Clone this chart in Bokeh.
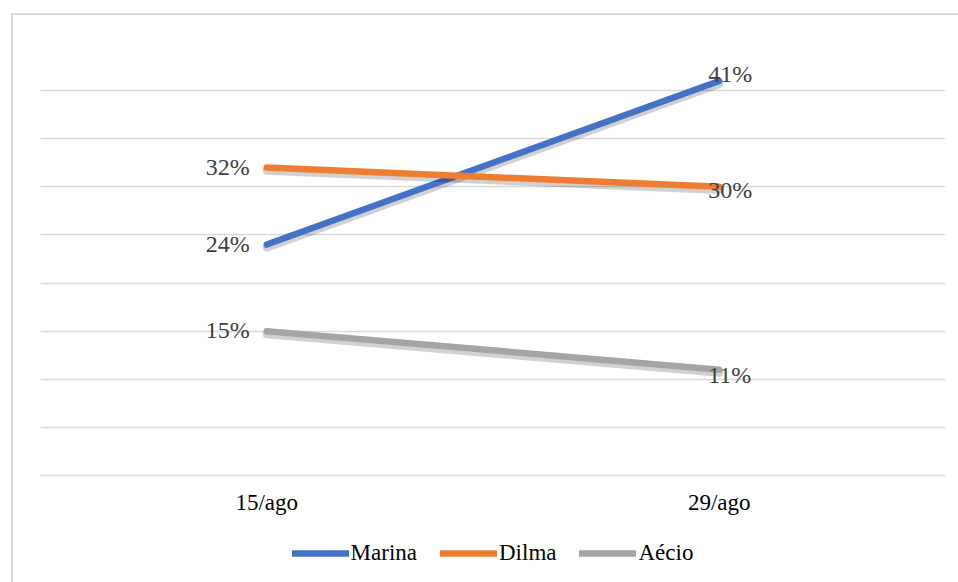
from bokeh.plotting import figure
from bokeh.models import FactorRange, Range1d, FixedTicker, Legend, LegendItem
from bokeh.layouts import column
from bokeh.core.properties import value
from bokeh.embed import file_html
from bokeh.resources import INLINE

dates = ["15/ago", "29/ago"]
marina = [24, 41]
dilma = [32, 30]
aecio = [15, 11]
series_names = ["Marina", "Dilma", "Aécio"]
y_ticks = [0, 5, 10, 15, 20, 25, 30, 35, 40, 45]

series = [marina, dilma, aecio]
colors = ["#4472C4", "#ED7D31", "#A5A5A5"]
# vertical nudges (px) for the labels at the last point
end_nudge = [-7, 3, 5]

FONT = "Liberation Serif"

p = figure(x_range=FactorRange(*dates), y_range=Range1d(0, 45),
           width=945, height=505, output_backend="svg", toolbar_location=None,
           min_border_left=27, min_border_right=13, min_border_top=27, min_border_bottom=45)
p.outline_line_color = None
p.background_fill_color = "white"
p.border_fill_color = "white"

p.extra_y_ranges = {"shadow": Range1d(0.32, 45.32)}

p.yaxis.visible = False
p.yaxis.ticker = FixedTicker(ticks=y_ticks)
p.ygrid.ticker = FixedTicker(ticks=y_ticks)
p.ygrid.grid_line_color = "#d9d9d9"
p.ygrid.grid_line_width = 1.5
p.xgrid.visible = False

p.xaxis.axis_line_color = "#d9d9d9"
p.xaxis.axis_line_width = 1.5
p.xaxis.major_tick_line_color = None
p.xaxis.minor_tick_line_color = None
p.xaxis.major_label_text_font = FONT
p.xaxis.major_label_text_font_size = "23px"
p.xaxis.major_label_text_color = "#000000"
p.xaxis.major_label_standoff = 8

# legend panel (separate strip below the chart)
pleg = figure(x_range=FactorRange(*dates), y_range=Range1d(100, 101),
              width=945, height=62, output_backend="svg", toolbar_location=None,
              min_border_left=27, min_border_right=9, min_border_top=4, min_border_bottom=0)
pleg.axis.visible = False
pleg.grid.visible = False
pleg.outline_line_color = None
pleg.background_fill_color = "white"
pleg.border_fill_color = "white"

items = []
for name, vals, col, nud in zip(series_names, series, colors, end_nudge):
    p.line(dates, vals, y_range_name="shadow", line_width=8, line_color="black",
           line_alpha=0.18, line_cap="round")
    p.line(dates, vals, line_width=6.5, line_color=col, line_cap="round")
    rl = pleg.line(dates, vals, line_width=6.5, line_color=col, line_cap="round")
    items.append(LegendItem(label=name, renderers=[rl]))
    labels = [f"{v}%" for v in vals]
    p.text([dates[0]], [vals[0]], text=[labels[0]], text_align="right", text_baseline="middle",
           x_offset=-17, y_offset=-1, text_font=value(FONT), text_font_size="24px",
           text_color="#404040")
    p.text([dates[-1]], [vals[-1]], text=[labels[-1]], text_align="left", text_baseline="middle",
           x_offset=-11, y_offset=nud, text_font=value(FONT), text_font_size="24px",
           text_color="#404040")

legend = Legend(items=items, orientation="horizontal", location="center")
legend.glyph_width = 57
legend.glyph_height = 24
legend.label_standoff = 2
legend.spacing = 23
legend.padding = 0
legend.margin = 0
legend.border_line_color = None
legend.background_fill_alpha = 0
legend.label_text_font = FONT
legend.label_text_font_size = "23px"
legend.label_text_color = "#000000"
pleg.add_layout(legend)

layout = column(p, pleg, spacing=0)
layout.margin = (13, 0, 0, 11)
layout.styles = {"border-top": "2px solid #d9d9d9", "border-left": "2px solid #d9d9d9"}

open("out.html", "w").write(file_html(layout, INLINE))
